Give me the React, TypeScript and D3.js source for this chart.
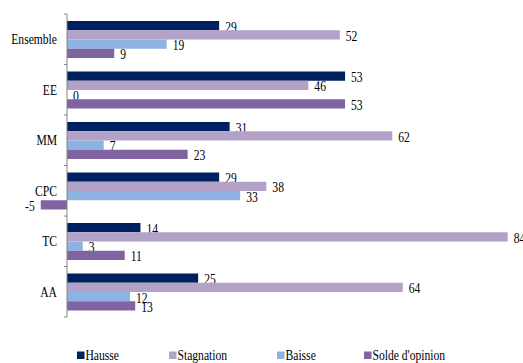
import React from "react";
import * as d3 from "d3";

const categories = ["Ensemble", "EE", "MM", "CPC", "TC", "AA"];
const seriesNames = ["Hausse", "Stagnation", "Baisse", "Solde d'opinion"];
const hausse = [29, 53, 31, 29, 14, 25];
const stagnation = [52, 46, 62, 38, 84, 64];
const baisse = [19, 0, 7, 33, 3, 12];
const solde = [9, 53, 23, -5, 11, 13];
const seriesValues = [hausse, stagnation, baisse, solde];
const colors = ["#002060", "#b3a2c7", "#8db3e2", "#8064a2"];

const W = 523;
const H = 363;
const FONT = "'Liberation Serif', 'DejaVu Serif', serif";
const SX = 0.8;

export default function App() {
  const x = d3.scaleLinear().domain([0, 84]).range([67, 507.7]);
  const y = d3.scaleBand<string>().domain(categories).range([14, 317]).padding(0);
  const bw = y.bandwidth();
  const inner = d3.scaleBand<string>().domain(seriesNames).range([7, bw - 6.5]).padding(0);
  const bh = inner.bandwidth();
  const legendX = [77, 169, 277, 364];

  const txt = (tx: number, ty: number, s: string, anchor: string, size = 14.5, key?: string) => (
    <text
      key={key}
      transform={`translate(${tx},${ty}) scale(${SX},1)`}
      textAnchor={anchor}
      fontFamily={FONT}
      fontSize={size}
      fill="#000"
    >
      {s}
    </text>
  );

  return (
    <svg width={W} height={H} style={{ position: "absolute", left: 0, top: 0, background: "#fff" }}>
      {categories.map((c, ci) => (
        <g key={c}>
          {seriesNames.map((s, si) => {
            const v = seriesValues[si][ci];
            const y0 = (y(c) as number) + (inner(s) as number);
            const x0 = Math.min(x(0), x(v));
            const w = Math.abs(x(v) - x(0));
            return (
              <g key={s}>
                <rect x={x0} y={y0} width={w} height={bh} fill={colors[si]} />
                {v >= 0
                  ? txt(x(v) + 6, y0 + bh / 2 + 6, String(v), "start")
                  : txt(x(v) - 6, y0 + bh / 2 + 6, String(v), "end")}
              </g>
            );
          })}
          {txt(57, (y(c) as number) + bw / 2 + 5, c, "end")}
        </g>
      ))}
      <line x1={67} x2={67} y1={14} y2={317} stroke="#868686" strokeWidth={1} />
      {[...categories.map((c) => y(c) as number), 317].map((ty, i) => (
        <line key={i} x1={64} x2={67} y1={ty} y2={ty} stroke="#868686" strokeWidth={1} />
      ))}
      {seriesNames.map((s, i) => (
        <g key={s}>
          <rect x={legendX[i]} y={351.5} width={7.5} height={7.5} fill={colors[i]} />
          {txt(legendX[i] + 8.5, 360, s, "start")}
        </g>
      ))}
    </svg>
  );
}
